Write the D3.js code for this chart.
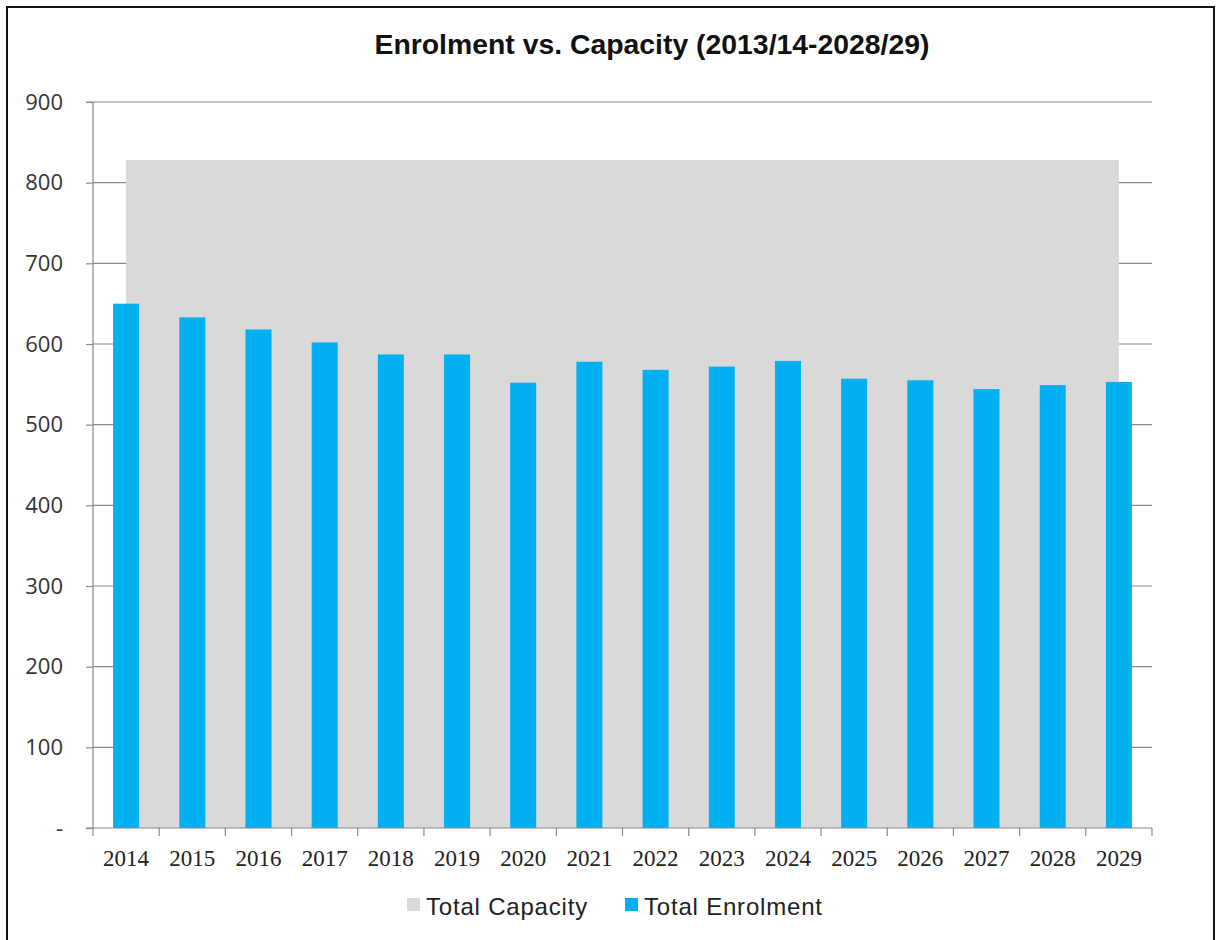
<!DOCTYPE html>
<html><head><meta charset="utf-8">
<script src="https://cdn.jsdelivr.net/npm/d3@7"></script>
<style>body{margin:0;background:#fff}svg{display:block}</style>
</head><body>
<svg id="c" width="1216" height="940"></svg>
<script>
const years = ["2014","2015","2016","2017","2018","2019","2020","2021","2022","2023","2024","2025","2026","2027","2028","2029"];
const capacity = [828,828,828,828,828,828,828,828,828,828,828,828,828,828,828,828];
const enrolment = [650,633,618,602,587,587,552,578,568,572,579,557,555,544,549,553];
const yTicks = [0,100,200,300,400,500,600,700,800,900];
const title = "Enrolment vs. Capacity (2013/14-2028/29)";
const seriesNames = ["Total Capacity","Total Enrolment"];
const colors = ["#d9d9d9","#00b0f0"];

const svg = d3.select("#c");
// frame
svg.append("rect").attr("x",7).attr("y",7).attr("width",1207).attr("height",945)
  .attr("fill","#fff").attr("stroke","#111").attr("stroke-width",2);

const L=93, R=1152, T=102, B=828;
const x = d3.scaleBand().domain(years).range([L,R]).paddingInner(0).paddingOuter(0);
const y = d3.scaleLinear().domain([0,900]).range([B,T]);

// gridlines
svg.append("g").selectAll("line").data(yTicks.filter(d=>d>0)).join("line")
  .attr("x1",L).attr("x2",R).attr("y1",d=>y(d)).attr("y2",d=>y(d))
  .attr("stroke","#8a8a8a").attr("stroke-width",1.2);

// capacity area
const area = d3.area().x(d=>x(d.year)+x.bandwidth()/2).y0(y(0)).y1(d=>y(d.v));
svg.append("path").datum(years.map((yr,i)=>({year:yr,v:capacity[i]})))
  .attr("d",area).attr("fill",colors[0]);

// enrolment bars
const bw = 26;
svg.append("g").selectAll("rect").data(years.map((yr,i)=>({year:yr,v:enrolment[i]}))).join("rect")
  .attr("x",d=>x(d.year)+x.bandwidth()/2-bw/2).attr("width",bw)
  .attr("y",d=>y(d.v)).attr("height",d=>y(0)-y(d.v)).attr("fill",colors[1]);

// y axis
const yAxis = d3.axisLeft(y).tickValues(yTicks).tickSize(7).tickPadding(23)
  .tickFormat(d=>d===0?"-":d3.format("d")(d));
const gy = svg.append("g").attr("transform",`translate(${L},0)`).call(yAxis);
gy.select(".domain").attr("stroke","#8a8a8a").attr("stroke-width",1.2).attr("d",`M-7,${T}H0V${B}`);
gy.selectAll(".tick line").attr("stroke","#8a8a8a").attr("stroke-width",1.2);
gy.selectAll(".tick text").attr("font-family","'Open Sans', 'Noto Sans', sans-serif").attr("font-size",22).attr("fill","#333");

// x axis
const gx = svg.append("g").attr("transform",`translate(0,${B})`)
  .call(d3.axisBottom(x).tickSize(0).tickPadding(22));
gx.select(".domain").attr("stroke","#8a8a8a").attr("stroke-width",1.2).attr("d",`M${L-7},0H${R}`);
gx.selectAll(".tick text").attr("font-family","'Liberation Serif', 'DejaVu Serif', serif").attr("font-size",23).attr("fill","#222");
// boundary ticks
gx.append("g").selectAll("line").data(years.concat(["end"])).join("line")
  .attr("x1",(d,i)=>L+i*x.bandwidth()).attr("x2",(d,i)=>L+i*x.bandwidth())
  .attr("y1",0).attr("y2",8).attr("stroke","#8a8a8a").attr("stroke-width",1.2);

// title
svg.append("text").attr("x",652).attr("y",54).attr("text-anchor","middle")
  .attr("font-family","'Liberation Sans', Arial, sans-serif")
  .attr("font-weight","bold").attr("font-size",27).attr("fill","#111")
  .attr("textLength",555).attr("lengthAdjust","spacingAndGlyphs").text(title);

// legend
const lg = svg.append("g").attr("font-family","'Liberation Sans', Arial, sans-serif").attr("font-size",24).attr("fill","#222").attr("letter-spacing","0.8");
const legX = [407, 625];
seriesNames.forEach((n,i)=>{
  lg.append("rect").attr("x",legX[i]).attr("y",898).attr("width",13).attr("height",13).attr("fill",colors[i]);
  lg.append("text").attr("x",legX[i]+19).attr("y",915).text(n);
});
</script>
</body></html>
